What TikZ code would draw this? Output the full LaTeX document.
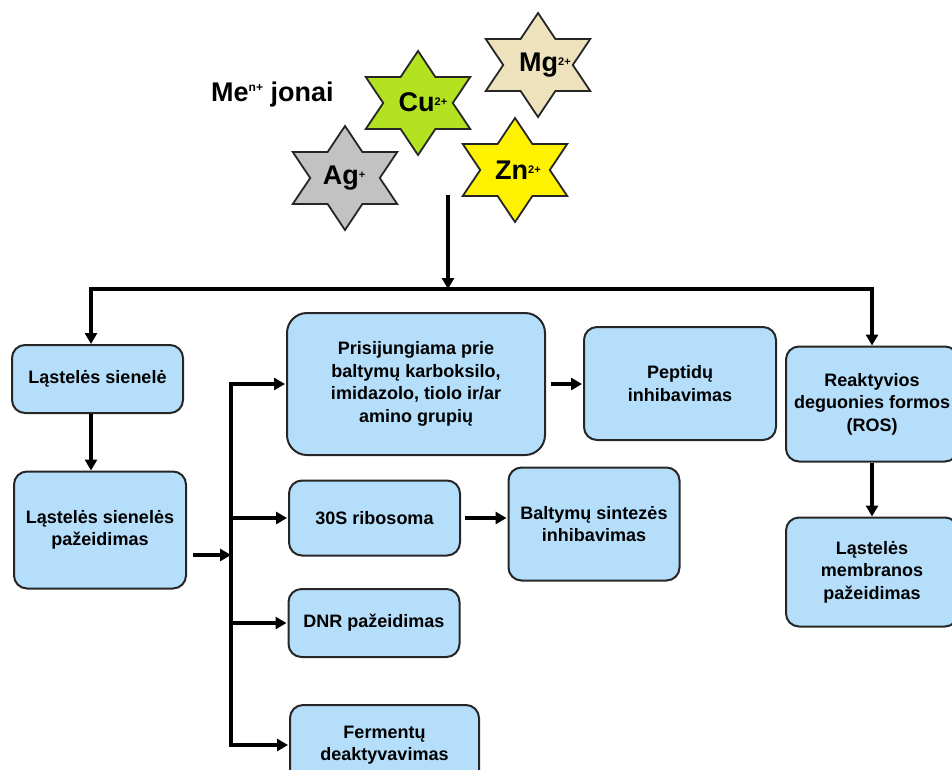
\documentclass[tikz,border=0pt]{standalone}
\usepackage{fontspec}
\setmainfont{Liberation Sans}
\usetikzlibrary{arrows.meta}

\definecolor{boxblue}{RGB}{180,222,250}
\definecolor{cugreen}{RGB}{178,226,32}
\definecolor{mgbeige}{RGB}{238,226,188}
\definecolor{znyellow}{RGB}{255,242,0}
\definecolor{aggray}{RGB}{194,194,194}

\newcommand{\ionsup}[1]{\raisebox{6pt}{\fontsize{11}{11}\selectfont #1}}

\begin{document}
\begin{tikzpicture}[x=1pt,y=-1pt,
    box/.style={draw=black!85, line width=2pt, fill=boxblue, rounded corners=13pt,
        align=center, inner sep=0pt, font=\bfseries\fontsize{18}{22.5}\selectfont},
    line/.style={line width=3.2pt, line cap=rect},
    arr/.style={line width=3.2pt, -{Triangle[length=11pt,width=12pt]}},
    starline/.style={draw=black!85, line width=1.8pt, line join=miter},
    iontext/.style={font=\bfseries\fontsize{27}{27}\selectfont, inner sep=0pt}]
    \useasboundingbox (0,0) rectangle (952,769);

    \node[anchor=base west, inner sep=0pt, font=\bfseries\fontsize{27}{27}\selectfont]
        (title) at (211,101) {Me\raisebox{10pt}{\fontsize{12}{12}\selectfont n+} jonai};

    \foreach \sx/\sy/\scol in {345/178/aggray, 418/103/cugreen, 538/65/mgbeige, 515/170/znyellow}
        \draw[starline, fill=\scol, shift={(\sx,\sy)}, xscale=1.16]
            (90:52) -- (120:30) -- (150:52) -- (180:30) -- (210:52) -- (240:30)
            -- (270:52) -- (300:30) -- (330:52) -- (0:30) -- (30:52) -- (60:30) -- cycle;

    \node[iontext] (ag) at (344,178) {Ag\ionsup{+}};
    \node[iontext] (cu) at (423,102) {Cu\ionsup{2+}};
    \node[iontext] (mg) at (545,65) {Mg\ionsup{2+}};
    \node[iontext] (zn) at (518,170) {Zn\ionsup{2+}};

    \node[box, minimum width=171, minimum height=68] (wall) at (97.5,379) {Ląstelės sienelė};
    \node[box, minimum width=172, minimum height=117] (walldmg) at (100,530) {Ląstelės sienelės\\pažeidimas};
    \node[box, minimum width=258, minimum height=142, rounded corners=20pt] (bind) at (416,384)
        {Prisijungiama prie\\baltymų karboksilo,\\imidazolo, tiolo ir/ar\\amino grupių};
    \node[box, minimum width=192, minimum height=113] (pept) at (680,383.5) {Peptidų\\inhibavimas};
    \node[box, minimum width=171, minimum height=75] (ribo) at (374.5,518) {30S ribosoma};
    \node[box, minimum width=171, minimum height=113] (synth) at (594,524) {Baltymų sintezės\\inhibavimas};
    \node[box, minimum width=171, minimum height=68] (dna) at (374,623) {DNR pažeidimas};
    \node[box, minimum width=189, minimum height=80] (enz) at (384.5,745) {Fermentų\\deaktyvavimas};
    \node[box, minimum width=172, minimum height=115] (ros) at (872,404) {Reaktyvios\\deguonies formos\\(ROS)};
    \node[box, minimum width=172, minimum height=109] (memb) at (872,572) {Ląstelės\\membranos\\pažeidimas};

    \coordinate (ionsrc) at (448,195);
    \coordinate (busmid) at (448,289);
    \coordinate (busl) at (91,289);
    \coordinate (busr) at (872,289);
    \coordinate (trunk) at (231,555);

    \draw[arr] (ionsrc) -- (busmid);
    \draw[line] (busl) -- (busr);
    \draw[arr] (busl) -- (busl |- wall.north);
    \draw[arr] (busr) -- (ros.north);
    \draw[arr] (busl |- wall.south) -- (busl |- walldmg.north);
    \draw[arr] (ros.south) -- (memb.north);

    \draw[arr] ([xshift=6pt]walldmg.east |- trunk) -- (trunk);
    \draw[line] (trunk |- bind.west) -- (trunk |- enz.west);
    \foreach \tgt in {bind, ribo, dna, enz}
        \draw[arr, shorten >=1pt] (trunk |- \tgt.west) -- (\tgt.west);

    \draw[arr, shorten <=5pt, shorten >=1pt] (bind.east) -- (bind.east -| pept.west);
    \draw[arr, shorten <=4pt, shorten >=1pt] (ribo.east) -- (ribo.east -| synth.west);
\end{tikzpicture}
\end{document}
